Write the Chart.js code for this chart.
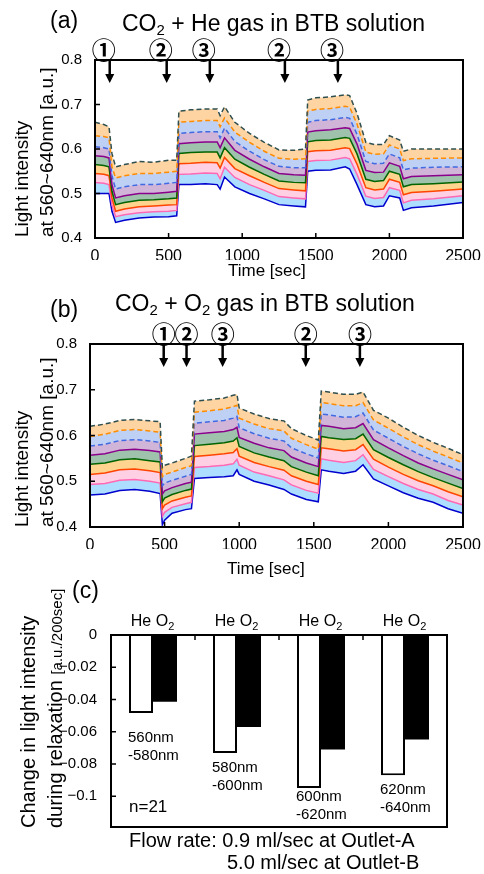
<!DOCTYPE html>
<html>
<head>
<meta charset="utf-8">
<script src="https://cdn.jsdelivr.net/npm/chart.js@4.4.1/dist/chart.umd.min.js"></script>
<style>
body { margin: 0; background: #fff; font-family: "Liberation Sans", Arial, sans-serif; color: #000; }
#wrap { position: relative; width: 484px; height: 874px; overflow: hidden; }
canvas { position: absolute; left: 0; top: 0; }
.t { position: absolute; white-space: nowrap; line-height: 1; }
.rot { position: absolute; white-space: nowrap; line-height: 20px; transform-origin: 0 0; transform: rotate(-90deg); }
sub { font-size: 65%; vertical-align: -0.3em; line-height: 0; }
</style>
</head>
<body>
<div id="wrap">
  <canvas id="chartA" width="484" height="874"></canvas>
  <canvas id="chartB" width="484" height="874"></canvas>
  <canvas id="chartC" width="484" height="874"></canvas>

  <div class="t" style="left:50px;top:9px;font-size:23px">(a)</div>
  <div class="t" style="left:122px;top:12px;font-size:23px">CO<sub>2</sub> + He gas in BTB solution</div>
  <div class="rot" style="left:12px;top:237px;font-size:19px">Light intensity</div>
  <div class="rot" style="left:37px;top:237px;font-size:19px">at 560~640nm [a.u.]</div>
  <div class="t" style="left:228px;top:262px;font-size:17px">Time [sec]</div>

  <div class="t" style="left:50px;top:298px;font-size:23px">(b)</div>
  <div class="t" style="left:115px;top:292px;font-size:23px">CO<sub>2</sub> + O<sub>2</sub> gas in BTB solution</div>
  <div class="rot" style="left:12px;top:527px;font-size:19px">Light intensity</div>
  <div class="rot" style="left:37px;top:527px;font-size:19px">at 560~640nm [a.u.]</div>
  <div class="t" style="left:227px;top:560px;font-size:17px">Time [sec]</div>

  <div class="t" style="left:72px;top:579px;font-size:23px">(c)</div>
  <div class="rot" style="left:18px;top:828px;font-size:20px">Change in light intensity</div>
  <div class="rot" style="left:45px;top:828px;font-size:20px">during relaxation <span style="font-size:15px">[a.u./200sec]</span></div>
  <div class="t" style="left:129px;top:798px;font-size:17px">n=21</div>
  <div class="t" style="left:129px;top:830px;font-size:20px">Flow rate: 0.9 ml/sec at Outlet-A</div>
  <div class="t" style="left:227px;top:852px;font-size:20px">5.0 ml/sec at Outlet-B</div>
</div>

<script>
// (a) CO2 + He : 時間軸と代表的な8本（上端→下端）
const timeA = [0, 60, 95, 115, 140, 200, 300, 400, 500, 555, 570, 650, 750, 830, 850, 880, 950, 1050, 1150, 1250, 1350, 1430, 1445, 1500, 1600, 1700, 1730, 1780, 1840, 1900, 1960, 2000, 2070, 2095, 2150, 2300, 2500];
const heLine1 = [0.66, 0.655, 0.65, 0.59, 0.56, 0.565, 0.572, 0.57, 0.575, 0.575, 0.685, 0.688, 0.69, 0.69, 0.675, 0.695, 0.66, 0.635, 0.615, 0.598, 0.597, 0.6, 0.71, 0.715, 0.717, 0.722, 0.72, 0.68, 0.615, 0.61, 0.61, 0.63, 0.62, 0.595, 0.6, 0.6, 0.6];
const heLine2 = [0.63, 0.628, 0.625, 0.56, 0.535, 0.54, 0.545, 0.545, 0.548, 0.55, 0.66, 0.662, 0.664, 0.664, 0.65, 0.67, 0.638, 0.615, 0.595, 0.579, 0.577, 0.578, 0.685, 0.689, 0.691, 0.696, 0.694, 0.656, 0.593, 0.588, 0.589, 0.609, 0.6, 0.574, 0.578, 0.579, 0.58];
const heLine3 = [0.605, 0.603, 0.6, 0.54, 0.51, 0.515, 0.52, 0.52, 0.523, 0.525, 0.635, 0.637, 0.639, 0.639, 0.625, 0.647, 0.617, 0.595, 0.576, 0.561, 0.558, 0.558, 0.66, 0.664, 0.666, 0.671, 0.669, 0.633, 0.572, 0.567, 0.568, 0.589, 0.58, 0.553, 0.557, 0.559, 0.56];
const heLine4 = [0.585, 0.583, 0.58, 0.52, 0.49, 0.495, 0.5, 0.5, 0.503, 0.505, 0.612, 0.614, 0.616, 0.616, 0.603, 0.625, 0.597, 0.577, 0.56, 0.545, 0.542, 0.541, 0.638, 0.641, 0.643, 0.648, 0.646, 0.611, 0.552, 0.547, 0.548, 0.569, 0.561, 0.533, 0.538, 0.54, 0.542];
const heLine5 = [0.565, 0.563, 0.56, 0.505, 0.475, 0.48, 0.485, 0.486, 0.488, 0.49, 0.59, 0.592, 0.593, 0.593, 0.58, 0.603, 0.577, 0.559, 0.543, 0.528, 0.525, 0.524, 0.616, 0.619, 0.62, 0.626, 0.624, 0.589, 0.532, 0.527, 0.529, 0.55, 0.543, 0.515, 0.52, 0.522, 0.526];
const heLine6 = [0.545, 0.543, 0.54, 0.49, 0.46, 0.465, 0.47, 0.472, 0.474, 0.475, 0.567, 0.568, 0.57, 0.569, 0.557, 0.581, 0.556, 0.54, 0.525, 0.511, 0.508, 0.506, 0.594, 0.596, 0.597, 0.603, 0.601, 0.566, 0.513, 0.508, 0.51, 0.532, 0.525, 0.497, 0.502, 0.505, 0.51];
const heLine7 = [0.525, 0.523, 0.52, 0.475, 0.448, 0.452, 0.457, 0.459, 0.46, 0.462, 0.543, 0.544, 0.546, 0.545, 0.533, 0.559, 0.536, 0.52, 0.507, 0.493, 0.49, 0.488, 0.572, 0.574, 0.575, 0.581, 0.578, 0.543, 0.494, 0.489, 0.491, 0.513, 0.507, 0.479, 0.485, 0.488, 0.495];
const heLine8 = [0.5, 0.5, 0.5, 0.46, 0.435, 0.44, 0.445, 0.447, 0.448, 0.45, 0.52, 0.52, 0.522, 0.52, 0.51, 0.537, 0.515, 0.5, 0.488, 0.475, 0.472, 0.47, 0.55, 0.552, 0.553, 0.56, 0.555, 0.52, 0.475, 0.47, 0.472, 0.495, 0.49, 0.462, 0.468, 0.472, 0.48];

// (b) CO2 + O2
const timeB = [0, 100, 200, 300, 400, 470, 485, 500, 550, 640, 680, 700, 800, 900, 960, 985, 1000, 1100, 1200, 1300, 1350, 1450, 1530, 1550, 1600, 1700, 1780, 1830, 1900, 2000, 2100, 2200, 2300, 2400, 2500];
const o2Line1 = [0.62, 0.625, 0.633, 0.635, 0.632, 0.63, 0.53, 0.535, 0.54, 0.55, 0.555, 0.675, 0.678, 0.682, 0.688, 0.69, 0.66, 0.647, 0.637, 0.632, 0.615, 0.6, 0.59, 0.697, 0.695, 0.69, 0.69, 0.695, 0.655, 0.638, 0.618, 0.6, 0.585, 0.572, 0.558];
const o2Line2 = [0.598, 0.603, 0.611, 0.613, 0.61, 0.607, 0.51, 0.515, 0.52, 0.53, 0.534, 0.651, 0.654, 0.658, 0.663, 0.666, 0.638, 0.625, 0.615, 0.61, 0.594, 0.58, 0.57, 0.672, 0.67, 0.665, 0.665, 0.672, 0.634, 0.616, 0.597, 0.58, 0.566, 0.553, 0.54];
const o2Line3 = [0.577, 0.581, 0.589, 0.591, 0.588, 0.585, 0.49, 0.496, 0.502, 0.511, 0.515, 0.627, 0.63, 0.633, 0.638, 0.642, 0.617, 0.604, 0.594, 0.588, 0.573, 0.56, 0.551, 0.647, 0.645, 0.64, 0.641, 0.649, 0.612, 0.594, 0.576, 0.56, 0.546, 0.534, 0.521];
const o2Line4 = [0.557, 0.56, 0.568, 0.57, 0.567, 0.564, 0.472, 0.479, 0.486, 0.495, 0.498, 0.603, 0.606, 0.609, 0.613, 0.618, 0.596, 0.583, 0.573, 0.567, 0.553, 0.54, 0.532, 0.622, 0.62, 0.615, 0.617, 0.626, 0.591, 0.573, 0.556, 0.54, 0.527, 0.515, 0.503];
const o2Line5 = [0.537, 0.54, 0.547, 0.549, 0.545, 0.542, 0.455, 0.463, 0.471, 0.48, 0.483, 0.578, 0.581, 0.584, 0.588, 0.595, 0.576, 0.562, 0.553, 0.545, 0.532, 0.52, 0.512, 0.598, 0.595, 0.591, 0.593, 0.603, 0.569, 0.552, 0.536, 0.521, 0.508, 0.496, 0.484];
const o2Line6 = [0.515, 0.518, 0.525, 0.527, 0.523, 0.519, 0.44, 0.448, 0.457, 0.465, 0.468, 0.554, 0.557, 0.56, 0.563, 0.571, 0.555, 0.541, 0.532, 0.524, 0.512, 0.5, 0.493, 0.573, 0.571, 0.566, 0.569, 0.58, 0.548, 0.531, 0.515, 0.501, 0.49, 0.477, 0.466];
const o2Line7 = [0.493, 0.495, 0.502, 0.504, 0.5, 0.496, 0.423, 0.432, 0.443, 0.451, 0.454, 0.53, 0.532, 0.535, 0.538, 0.548, 0.535, 0.52, 0.512, 0.503, 0.492, 0.48, 0.474, 0.549, 0.546, 0.541, 0.545, 0.558, 0.526, 0.51, 0.495, 0.482, 0.472, 0.458, 0.448];
const o2Line8 = [0.47, 0.472, 0.48, 0.482, 0.478, 0.473, 0.405, 0.415, 0.43, 0.438, 0.44, 0.506, 0.508, 0.51, 0.512, 0.525, 0.515, 0.5, 0.492, 0.482, 0.472, 0.46, 0.455, 0.525, 0.522, 0.517, 0.522, 0.536, 0.505, 0.49, 0.475, 0.463, 0.454, 0.44, 0.43];

// 矢印（操作タイミング）
const marksA = [100, 487, 780, 1290, 1650];
const marksB = [494, 647, 889, 1446, 1809];
const markLabels = ["①", "②", "③", "②", "③"];

// (c) 緩和中の変化量
const bandFrom = ["560nm", "580nm", "600nm", "620nm"];
const bandTo = ["-580nm", "-600nm", "-620nm", "-640nm"];
const heChange = [-0.0483, -0.0731, -0.0948, -0.087];
const o2Change = [-0.0414, -0.057, -0.071, -0.0648];

const FONT = '"Liberation Sans", Arial, sans-serif';
Chart.defaults.font.family = FONT;
Chart.defaults.color = "#000";

const lineColors = ["#2f4f4f", "#ff8c00", "#4169e1", "#8b008b", "#006400", "#ff4500", "#ff69b4", "#0000cd"];
const bandFill = [null, "rgba(255,160,50,0.45)", "rgba(110,150,230,0.45)", "rgba(150,90,170,0.45)",
  "rgba(40,120,70,0.45)", "rgba(255,170,30,0.5)", "rgba(255,175,210,0.6)", "rgba(120,200,255,0.6)"];

function lineSets(time, lines) {
  return lines.map((vals, i) => ({
    data: vals.map((v, k) => ({ x: time[k], y: v })),
    borderColor: lineColors[i],
    borderWidth: 1.5,
    borderDash: i < 3 ? [5, 3] : [],
    backgroundColor: bandFill[i] || "transparent",
    fill: i === 0 ? false : "-1",
    pointRadius: 0,
    tension: 0
  }));
}

// 枠と内向きの目盛り
const framePlugin = {
  id: "frame",
  afterDraw(chart, args, o) {
    const { ctx, chartArea: a, scales } = chart;
    const x = scales.x, y = scales.y;
    ctx.save();
    ctx.strokeStyle = "#000";
    ctx.lineWidth = 1.5;
    ctx.beginPath();
    y.ticks.forEach(t => { const p = y.getPixelForValue(t.value); ctx.moveTo(a.left, p); ctx.lineTo(a.left + 5, p); });
    if (o.bottomTicks) x.ticks.forEach(t => { const p = x.getPixelForValue(t.value); ctx.moveTo(p, a.bottom); ctx.lineTo(p, a.bottom - 5); });
    if (o.groups) for (let i = 0; i < o.groups - 1; i++) {
      const p = (x.getPixelForValue(i) + x.getPixelForValue(i + 1)) / 2;
      ctx.moveTo(p, a.top); ctx.lineTo(p, a.top + 5);
    }
    ctx.stroke();
    ctx.lineWidth = 2;
    ctx.strokeRect(a.left, a.top, a.right - a.left, a.bottom - a.top);
    ctx.restore();
  }
};

// 矢印と丸数字
const marksPlugin = {
  id: "marks",
  afterDraw(chart, args, o) {
    if (!o.times) return;
    const { ctx, chartArea: a, scales: { x } } = chart;
    ctx.save();
    ctx.fillStyle = "#000";
    ctx.strokeStyle = "#000";
    o.times.forEach((t, i) => {
      const px = x.getPixelForValue(t);
      ctx.lineWidth = 2.5;
      ctx.beginPath(); ctx.moveTo(px, a.top + 1); ctx.lineTo(px, a.top + 16); ctx.stroke();
      ctx.beginPath(); ctx.moveTo(px - 4.5, a.top + 14); ctx.lineTo(px + 4.5, a.top + 14); ctx.lineTo(px, a.top + 23); ctx.closePath(); ctx.fill();
      ctx.font = 'bold 24px "Noto Sans CJK JP"';
      ctx.textAlign = "center";
      ctx.textBaseline = "middle";
      ctx.fillText(o.labels[i], px + o.shift, a.top - 10);
    });
    ctx.restore();
  }
};

// 棒グラフの注記（He / O2、波長帯）
const barTextPlugin = {
  id: "barText",
  afterDraw(chart, args, o) {
    if (!o.from) return;
    const { ctx, chartArea: a } = chart;
    const he = chart.getDatasetMeta(0).data, ox = chart.getDatasetMeta(1).data;
    ctx.save();
    ctx.fillStyle = "#000";
    ctx.textBaseline = "middle";
    he.forEach((bar, i) => {
      const ty = a.top - 13;
      ctx.font = "16px " + FONT;
      ctx.textAlign = "center";
      ctx.fillText("He", bar.x, ty);
      ctx.textAlign = "left";
      const wO = ctx.measureText("O").width;
      ctx.font = "11px " + FONT;
      const w2 = ctx.measureText("2").width;
      const sx = ox[i].x - (wO + w2) / 2;
      ctx.font = "16px " + FONT;
      ctx.fillText("O", sx, ty);
      ctx.font = "11px " + FONT;
      ctx.fillText("2", sx + wO, ty + 5);
      ctx.font = "15px " + FONT;
      const lx = bar.x - bar.width / 2 - 1;
      const ly = bar.y + o.dy[i];
      ctx.fillText(o.from[i], lx, ly);
      ctx.fillText(o.to[i], lx, ly + 18);
    });
    ctx.restore();
  }
};

function lineOptions(box, marks, shift) {
  return {
    responsive: false,
    animation: false,
    devicePixelRatio: 1,
    layout: { padding: { left: 0, top: box.top, right: 484 - box.right, bottom: 874 - box.bottom - 22 } },
    scales: {
      x: {
        type: "linear", min: 0, max: 2500,
        grid: { display: false }, border: { display: false },
        ticks: { stepSize: 500, padding: 1, maxRotation: 0, font: { size: 16 }, color: "#000", callback: v => String(v) },
        afterFit(s) { s.height = 22; }
      },
      y: {
        min: 0.4, max: 0.8,
        grid: { display: false }, border: { display: false },
        ticks: { stepSize: 0.1, padding: 5, font: { size: 15 }, color: "#000", callback: v => v.toFixed(1) },
        afterFit(s) { s.width = box.left; }
      }
    },
    plugins: {
      legend: { display: false }, tooltip: { enabled: false },
      frame: { bottomTicks: true },
      marks: { times: marks, labels: markLabels, shift: shift }
    }
  };
}

new Chart(document.getElementById("chartA"), {
  type: "line",
  data: { datasets: lineSets(timeA, [heLine1, heLine2, heLine3, heLine4, heLine5, heLine6, heLine7, heLine8]) },
  options: lineOptions({ left: 95, top: 60, right: 463, bottom: 238 }, marksA, -6),
  plugins: [framePlugin, marksPlugin]
});

new Chart(document.getElementById("chartB"), {
  type: "line",
  data: { datasets: lineSets(timeB, [o2Line1, o2Line2, o2Line3, o2Line4, o2Line5, o2Line6, o2Line7, o2Line8]) },
  options: lineOptions({ left: 90, top: 344, right: 463, bottom: 527 }, marksB, 0),
  plugins: [framePlugin, marksPlugin]
});

new Chart(document.getElementById("chartC"), {
  type: "bar",
  data: {
    labels: bandFrom.map((f, i) => f + bandTo[i]),
    datasets: [
      { label: "He", data: heChange, backgroundColor: "#fff", borderColor: "#000", borderWidth: 2 },
      { label: "O2", data: o2Change, backgroundColor: "#000", borderWidth: 0 }
    ]
  },
  options: {
    responsive: false,
    animation: false,
    devicePixelRatio: 1,
    layout: { padding: { left: 0, top: 635, right: 484 - 447, bottom: 874 - 827 } },
    datasets: { bar: { categoryPercentage: 48 / 84, barPercentage: 1 } },
    scales: {
      x: { display: false },
      y: {
        min: -0.119, max: 0,
        grid: { display: false }, border: { display: false },
        ticks: {
          stepSize: 0.02, includeBounds: false, padding: 6, font: { size: 15 }, color: "#000",
          callback: v => Math.abs(v) < 1e-9 ? "0" : "\u2212" + String(+Math.abs(v).toFixed(2))
        },
        afterFit(s) { s.width = 111; }
      }
    },
    plugins: {
      legend: { display: false }, tooltip: { enabled: false },
      frame: { groups: bandFrom.length },
      marks: {},
      barText: { from: bandFrom, to: bandTo, dy: [25, 15, 9, 14] }
    }
  },
  plugins: [framePlugin, marksPlugin, barTextPlugin]
});
</script>
</body>
</html>
